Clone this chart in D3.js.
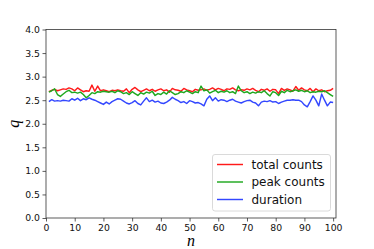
<!DOCTYPE html>
<html>
<head>
<meta charset="utf-8">
<script src="https://cdn.jsdelivr.net/npm/d3@7"></script>
<style>
  html, body { margin: 0; padding: 0; background: #fff; }
  svg { display: block; }
</style>
</head>
<body>
<div id="chart"></div>
<script>
// series values, n = 1..100
const totalCounts = [
  2.68, 2.71, 2.73, 2.70, 2.72, 2.74, 2.73, 2.76, 2.74, 2.70,
  2.76, 2.72, 2.68, 2.70, 2.69, 2.82, 2.69, 2.80, 2.70, 2.72,
  2.70, 2.68, 2.71, 2.70, 2.72, 2.70, 2.69, 2.74, 2.66, 2.73,
  2.77, 2.72, 2.68, 2.71, 2.74, 2.70, 2.73, 2.69, 2.72, 2.74,
  2.70, 2.72, 2.67, 2.75, 2.72, 2.71, 2.69, 2.75, 2.72, 2.70,
  2.68, 2.73, 2.71, 2.72, 2.74, 2.71, 2.73, 2.76, 2.72, 2.75,
  2.73, 2.70, 2.74, 2.73, 2.76, 2.72, 2.70, 2.72, 2.71, 2.74,
  2.72, 2.75, 2.71, 2.68, 2.73, 2.71, 2.74, 2.69, 2.73, 2.72,
  2.64, 2.75, 2.71, 2.74, 2.72, 2.69, 2.79, 2.71, 2.76, 2.72,
  2.70, 2.75, 2.68, 2.74, 2.70, 2.72, 2.68, 2.70, 2.71, 2.75
]
const peakCounts = [
  2.67, 2.70, 2.74, 2.62, 2.58, 2.63, 2.68, 2.71, 2.66, 2.67,
  2.65, 2.67, 2.62, 2.55, 2.60, 2.66, 2.64, 2.68, 2.67, 2.69,
  2.68, 2.67, 2.69, 2.66, 2.70, 2.68, 2.64, 2.66, 2.62, 2.68,
  2.64, 2.60, 2.66, 2.63, 2.67, 2.65, 2.69, 2.60, 2.64, 2.62,
  2.67, 2.63, 2.70, 2.66, 2.62, 2.64, 2.68, 2.66, 2.70, 2.67,
  2.64, 2.68, 2.66, 2.80, 2.70, 2.72, 2.65, 2.68, 2.71, 2.66,
  2.69, 2.67, 2.70, 2.66, 2.68, 2.64, 2.80, 2.70, 2.66, 2.68,
  2.64, 2.67, 2.65, 2.68, 2.66, 2.70, 2.64, 2.59, 2.68, 2.66,
  2.60, 2.69, 2.66, 2.71, 2.68, 2.70, 2.72, 2.69, 2.71, 2.68,
  2.70, 2.66, 2.68, 2.67, 2.69, 2.68, 2.70, 2.66, 2.62, 2.58
]
const duration = [
  2.47, 2.51, 2.48, 2.49, 2.48, 2.50, 2.49, 2.48, 2.53, 2.50,
  2.54, 2.49, 2.53, 2.51, 2.55, 2.52, 2.50, 2.47, 2.44, 2.41,
  2.46, 2.42, 2.47, 2.50, 2.53, 2.52, 2.48, 2.44, 2.42, 2.45,
  2.49, 2.43, 2.40, 2.48, 2.55, 2.47, 2.50, 2.46, 2.48, 2.44,
  2.43, 2.46, 2.50, 2.56, 2.52, 2.49, 2.45, 2.47, 2.43, 2.49,
  2.47, 2.44, 2.45, 2.42, 2.38, 2.52, 2.59, 2.49, 2.55, 2.48,
  2.51, 2.50, 2.47, 2.50, 2.52, 2.48, 2.46, 2.44, 2.47, 2.49,
  2.50, 2.46, 2.44, 2.38, 2.46, 2.48, 2.47, 2.49, 2.46, 2.47,
  2.43, 2.46, 2.48, 2.50, 2.50, 2.51, 2.50, 2.50, 2.47, 2.40,
  2.36, 2.47, 2.59, 2.50, 2.38, 2.63, 2.50, 2.38, 2.46, 2.45
]
const seriesNames = ["total counts", "peak counts", "duration"]
const seriesColors = ["#ff1a1a", "#1fa81f", "#3347ff"]
const xTicks = [0, 10, 20, 30, 40, 50, 60, 70, 80, 90, 100]
const yTicks = [0.0, 0.5, 1.0, 1.5, 2.0, 2.5, 3.0, 3.5, 4.0]

const width = 374, height = 249
const margin = {left: 46, right: 38, top: 29.5, bottom: 31}

const svg = d3.select("#chart").append("svg")
  .attr("width", width).attr("height", height)

// scales
const x = d3.scaleLinear().domain([0, 101]).range([margin.left, width - margin.right])
const y = d3.scaleLinear().domain([0, 4]).range([height - margin.bottom, margin.top])

const allSeries = [totalCounts, peakCounts, duration]

// lines
const line = d3.line().x((d, i) => x(i + 1)).y(d => y(d))
const plot = svg.append("g")
allSeries.forEach((s, k) => {
  plot.append("path")
    .datum(s)
    .attr("fill", "none")
    .attr("stroke", seriesColors[k])
    .attr("stroke-width", 1.45)
    .attr("stroke-linejoin", "round")
    .attr("d", line)
})

// axes
const fmt = d3.format(".1f")
const xAxis = svg.append("g")
  .attr("transform", `translate(0,${height - margin.bottom})`)
  .call(d3.axisBottom(x).tickValues(xTicks).tickSize(3.5).tickPadding(2.5))
const yAxis = svg.append("g")
  .attr("transform", `translate(${margin.left},0)`)
  .call(d3.axisLeft(y).tickValues(yTicks).tickFormat(fmt).tickSize(3.5).tickPadding(2.5))
;[xAxis, yAxis].forEach(a => {
  a.select(".domain").remove()
  a.selectAll("line").attr("stroke", "#333").attr("stroke-width", 0.8)
  a.selectAll("text").attr("fill", "#111")
    .style("font-family", "DejaVu Sans").style("font-size", "9.3px")
})

// frame
svg.append("rect")
  .attr("x", margin.left).attr("y", margin.top)
  .attr("width", width - margin.left - margin.right)
  .attr("height", height - margin.top - margin.bottom)
  .attr("fill", "none").attr("stroke", "#333").attr("stroke-width", 0.8)

// axis labels
svg.append("text")
  .attr("x", (margin.left + width - margin.right) / 2).attr("y", 245.5)
  .attr("text-anchor", "middle")
  .style("font-family", "Liberation Serif").style("font-style", "italic")
  .style("font-size", "16px")
  .text("n")
svg.append("text")
  .attr("transform", `translate(19,${(margin.top + height - margin.bottom) / 2}) rotate(-90)`)
  .attr("text-anchor", "middle")
  .style("font-family", "Liberation Serif").style("font-style", "italic")
  .style("font-size", "16px")
  .text("q")

// legend
const lg = svg.append("g").attr("transform", "translate(212.5,154.5)")
lg.append("rect")
  .attr("width", 118).attr("height", 56.5).attr("rx", 2.5)
  .attr("fill", "#fff").attr("fill-opacity", 0.8)
  .attr("stroke", "#d0d0d0").attr("stroke-width", 0.8)
seriesNames.forEach((name, k) => {
  const yy = 10 + k * 17.5
  lg.append("line")
    .attr("x1", 4.5).attr("x2", 30.5).attr("y1", yy).attr("y2", yy)
    .attr("stroke", seriesColors[k]).attr("stroke-width", 1.45)
  lg.append("text")
    .attr("x", 39).attr("y", yy + 4.3)
    .style("font-family", "DejaVu Sans").style("font-size", "12px")
    .attr("fill", "#111")
    .text(name)
})
</script>
</body>
</html>
